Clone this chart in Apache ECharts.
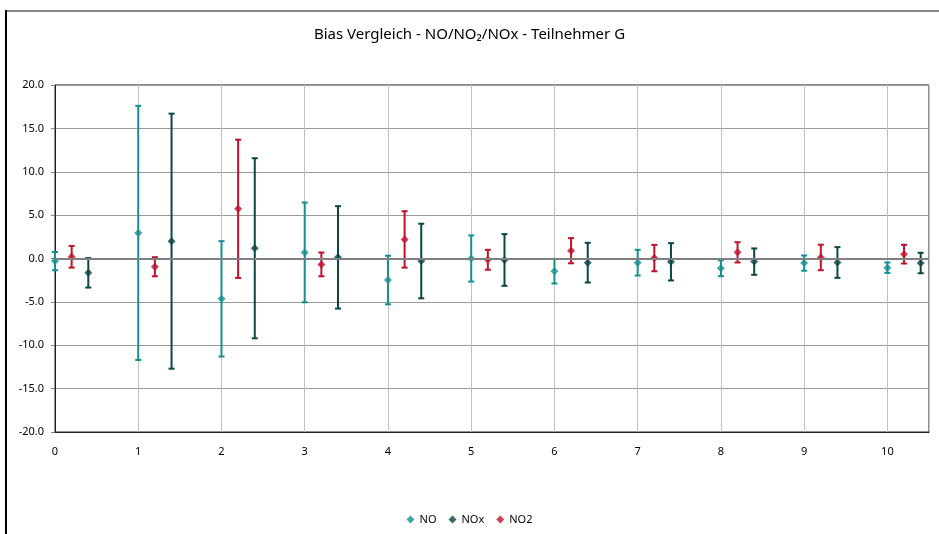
<!DOCTYPE html>
<html>
<head>
<meta charset="utf-8">
<script src="https://cdn.jsdelivr.net/npm/echarts@6/dist/echarts.min.js"></script>
<style>
  html, body { margin: 0; padding: 0; background: #fff; }
  #chart { width: 939px; height: 534px; }
</style>
</head>
<body>
<div id="chart"></div>
<script>
// Participant rounds on the x axis
const positions = [0, 1, 2, 3, 4, 5, 6, 7, 8, 9, 10];

// Bias (centre) and uncertainty (half width of the error bar) per component
const noBias   = [-0.30, 2.95, -4.65, 0.70, -2.48, 0.00, -1.46, -0.48, -1.12, -0.53, -1.06];
const noUnc    = [1.05, 14.65, 6.65, 5.75, 2.80, 2.66, 1.42, 1.48, 0.92, 0.88, 0.60];
const no2Bias  = [0.20, -0.95, 5.73, -0.68, 2.20, -0.15, 0.90, 0.05, 0.71, 0.12, 0.50];
const no2Unc   = [1.25, 1.10, 7.97, 1.37, 3.25, 1.15, 1.45, 1.52, 1.17, 1.47, 1.08];
const noxBias  = [-1.65, 2.00, 1.18, 0.13, -0.29, -0.17, -0.48, -0.38, -0.36, -0.46, -0.52];
const noxUnc   = [1.70, 14.70, 10.38, 5.90, 4.30, 2.98, 2.29, 2.15, 1.52, 1.77, 1.18];

const yTicks = { min: -20, max: 20, step: 5 };

const FONT = 'Noto Sans';
const COLORS = { NO: '#14908e', NOx: '#0b4545', NO2: '#c0102c' };

// Each component is shifted a little to the right of its round
const components = [
  { name: 'NO',  offset: 0.0, bias: noBias,  unc: noUnc,  color: COLORS.NO },
  { name: 'NO2', offset: 0.2, bias: no2Bias, unc: no2Unc, color: COLORS.NO2 },
  { name: 'NOx', offset: 0.4, bias: noxBias, unc: noxUnc, color: COLORS.NOx }
];

function errorBarItem(params, api) {
  const x = api.value(0);
  const top = api.coord([x, api.value(2)]);
  const bot = api.coord([x, api.value(1)]);
  const half = 3;
  const style = { stroke: api.visual('color'), lineWidth: 2 };
  return {
    type: 'group',
    children: [
      { type: 'line', shape: { x1: top[0], y1: top[1], x2: bot[0], y2: bot[1] }, style },
      { type: 'line', shape: { x1: top[0] - half, y1: top[1], x2: top[0] + half, y2: top[1] }, style },
      { type: 'line', shape: { x1: bot[0] - half, y1: bot[1], x2: bot[0] + half, y2: bot[1] }, style }
    ]
  };
}

const series = [];
components.forEach(c => {
  series.push({
    name: c.name,
    type: 'scatter',
    symbol: 'diamond',
    symbolSize: 8,
    itemStyle: { color: c.color },
    z: 3,
    data: positions.map((p, i) => [p + c.offset, c.bias[i]])
  });
  series.push({
    name: c.name,
    type: 'custom',
    renderItem: errorBarItem,
    itemStyle: { color: c.color },
    z: 2,
    data: positions.map((p, i) => [p + c.offset, c.bias[i] - c.unc[i], c.bias[i] + c.unc[i]])
  });
});

// Zero reference line
series.push({
  type: 'line',
  data: [],
  silent: true,
  markLine: {
    silent: true,
    symbol: 'none',
    label: { show: false },
    lineStyle: { color: '#808080', width: 2, type: 'solid' },
    data: [{ yAxis: 0 }]
  }
});

const chart = echarts.init(document.getElementById('chart'), null, { renderer: 'canvas' });
chart.setOption({
  animation: false,
  backgroundColor: '#ffffff',
  title: {
    text: 'Bias Vergleich - NO/NO\u2082/NOx - Teilnehmer G',
    left: 'center',
    top: 22,
    textStyle: { fontFamily: FONT, fontSize: 15, fontWeight: 'normal', color: '#000' }
  },
  legend: {
    bottom: 4,
    left: 'center',
    itemWidth: 8,
    itemHeight: 8,
    itemGap: 12,
    icon: 'diamond',
    textStyle: { fontFamily: FONT, fontSize: 11, color: '#000' },
    data: [
      { name: 'NO', icon: 'diamond' },
      { name: 'NOx', icon: 'diamond' },
      { name: 'NO2', icon: 'diamond' }
    ]
  },
  grid: { left: 55, right: 10, top: 85, bottom: 102, show: true, borderColor: '#202020', borderWidth: 1 },
  xAxis: {
    type: 'value',
    min: 0,
    max: 10.5,
    interval: 1,
    axisLine: { show: true, onZero: false, lineStyle: { color: '#202020', width: 1 } },
    axisTick: { show: false },
    axisLabel: {
      margin: 14,
      fontFamily: FONT, fontSize: 11, color: '#000',
      formatter: v => (Number.isInteger(v) ? String(v) : '')
    },
    splitLine: { show: true, lineStyle: { color: '#c0c0c0', width: 1 } }
  },
  yAxis: {
    type: 'value',
    min: yTicks.min,
    max: yTicks.max,
    interval: yTicks.step,
    axisLine: { show: true, lineStyle: { color: '#202020', width: 1 } },
    axisTick: { show: true, length: 4, lineStyle: { color: '#808080' } },
    axisLabel: {
      margin: 11,
      fontFamily: FONT, fontSize: 11, color: '#000',
      formatter: v => v.toFixed(1)
    },
    splitLine: { show: true, lineStyle: { color: '#9a9a9a', width: 1 } }
  },
  graphic: [
    { type: 'line', silent: true, shape: { x1: 6, y1: 11, x2: 939, y2: 11 }, style: { stroke: '#888888', lineWidth: 2 } },
    { type: 'line', silent: true, shape: { x1: 6, y1: 10, x2: 6, y2: 534 }, style: { stroke: '#000000', lineWidth: 2 } }
  ],
  series
});
</script>
</body>
</html>
